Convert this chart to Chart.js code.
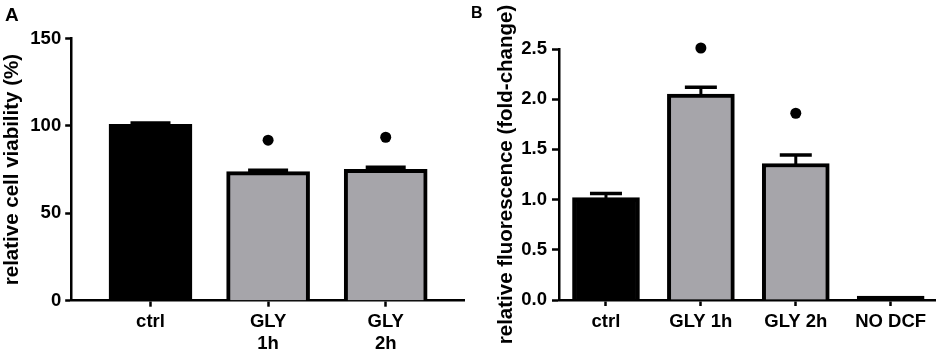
<!DOCTYPE html>
<html>
<head>
<meta charset="utf-8">
<script src="https://cdn.jsdelivr.net/npm/chart.js@4.4.1/dist/chart.umd.min.js"></script>
<style>
  html, body { margin: 0; padding: 0; background: #fff; }
  body { width: 941px; height: 355px; position: relative; overflow: hidden; font-family: "Liberation Sans", Arial, sans-serif; }
  .wrap { position: absolute; top: 0; height: 355px; }
  #wa { left: 0; width: 470px; }
  #wb { left: 470px; width: 471px; }
  .lab { position: absolute; font-weight: bold; line-height: 1; color: #000; }
  #la { left: 5px; top: 5px; font-size: 19px; }
  #lb { left: 471px; top: 5px; font-size: 16px; }
</style>
</head>
<body>
<div class="wrap" id="wa"><canvas id="ca"></canvas></div>
<div class="wrap" id="wb"><canvas id="cb"></canvas></div>
<div class="lab" id="la">A</div>
<div class="lab" id="lb">B</div>
<script>
// ---- Panel A data ----
const categoriesA = [['ctrl'], ['GLY', '1h'], ['GLY', '2h']];
const viabilityA = [100.9, 73.8, 75.2];
const semA = [0.8, 0.8, 1.2];
const significanceA = [null, 91.8, 93.5];
const yTicksA = [0, 50, 100, 150];

// ---- Panel B data ----
const categoriesB = ['ctrl', 'GLY 1h', 'GLY 2h', 'NO DCF'];
const fluorescenceB = [1.02, 2.05, 1.36, 0.04];
const semB = [0.04, 0.07, 0.085, 0];
const significanceB = [null, 2.51, 1.86, null];
const yTicksB = [0, 0.5, 1.0, 1.5, 2.0, 2.5];

const BLACK = '#000000';
const GREY = '#a6a5aa';
const FONT = '"Liberation Sans", Arial, sans-serif';

Chart.defaults.font.family = FONT;
Chart.defaults.font.weight = 'bold';
Chart.defaults.color = BLACK;
Chart.defaults.animation = false;

const errorBarPlugin = {
  id: 'errorBars',
  afterDatasetDraw(chart, args, opts) {
    if (args.index !== 0) return;
    const { ctx } = chart;
    const yScale = chart.scales.y;
    const meta = args.meta;
    const vals = opts.values, errs = opts.errors;
    ctx.save();
    ctx.strokeStyle = BLACK;
    ctx.lineCap = 'butt';
    meta.data.forEach((el, i) => {
      const e = errs[i];
      if (!e) return;
      const x = el.x;
      const yTop = yScale.getPixelForValue(vals[i] + e);
      const yBar = yScale.getPixelForValue(vals[i]);
      ctx.lineWidth = 3;
      ctx.beginPath();
      ctx.moveTo(x, yBar + 2);
      ctx.lineTo(x, yTop);
      ctx.stroke();
      ctx.lineWidth = 3.5;
      ctx.beginPath();
      ctx.moveTo(x - opts.cap / 2, yTop);
      ctx.lineTo(x + opts.cap / 2, yTop);
      ctx.stroke();
    });
    ctx.restore();
  }
};

function makeChart(canvasId, cfg) {
  const cats = cfg.cats;
  return new Chart(document.getElementById(canvasId), {
    type: 'bar',
    data: {
      datasets: [
        {
          type: 'bar',
          order: 2,
          data: cfg.vals.map((v, i) => ({ x: i, y: v })),
          backgroundColor: (c) => cfg.blackBars.includes(c.dataIndex) ? BLACK : GREY,
          borderColor: BLACK,
          borderWidth: 4,
          borderSkipped: 'bottom',
          barThickness: cfg.barW
        },
        {
          type: 'line',
          order: 1,
          showLine: false,
          clip: false,
          data: cfg.sig.map((v, i) => ({ x: i, y: v })),
          pointRadius: cfg.dotR,
          pointBackgroundColor: BLACK,
          pointBorderColor: BLACK,
          pointBorderWidth: 0
        }
      ]
    },
    options: {
      responsive: true,
      maintainAspectRatio: false,
      layout: { padding: { left: 0, right: cfg.padR, top: cfg.padT, bottom: 0 } },
      plugins: {
        legend: { display: false },
        tooltip: { enabled: false },
        errorBars: { values: cfg.vals, errors: cfg.errs, cap: cfg.cap }
      },
      scales: {
        x: {
          type: 'linear',
          offset: false,
          min: cfg.xMin,
          max: cfg.xMax,
          afterBuildTicks: (s) => { s.ticks = cats.map((c, i) => ({ value: i })); },
          afterFit: (s) => { s.height = cfg.xH; },
          ticks: {
            autoSkip: false,
            maxRotation: 0,
            padding: 5,
            font: { size: 18.5, weight: 'bold', lineHeight: 1.15 },
            callback: (v) => cats[v]
          },
          grid: { display: true, offset: false, drawOnChartArea: false, drawTicks: true, tickLength: 6, tickWidth: 2.5, tickColor: BLACK, color: BLACK },
          border: { display: true, width: 2.5, color: BLACK }
        },
        y: {
          type: 'linear',
          min: cfg.yTicks[0],
          max: cfg.yTicks[cfg.yTicks.length - 1],
          afterBuildTicks: (s) => { s.ticks = cfg.yTicks.map(v => ({ value: v })); },
          afterFit: (s) => { s.width = cfg.yW; },
          ticks: {
            padding: cfg.tickPad,
            font: { size: 18.5, weight: 'bold' },
            callback: cfg.yFmt
          },
          grid: { display: true, drawOnChartArea: false, drawTicks: true, tickLength: cfg.tickLen, tickWidth: 2.5, tickColor: BLACK, color: BLACK },
          border: { display: true, width: 2.5, color: BLACK },
          title: {
            display: true,
            text: cfg.title,
            font: { size: 20.5, weight: 'bold', lineHeight: 1.2 },
            padding: { top: cfg.titlePad, bottom: 0 }
          }
        }
      }
    },
    plugins: [errorBarPlugin]
  });
}

makeChart('ca', {
  cats: categoriesA, vals: viabilityA, errs: semA, sig: significanceA, yTicks: yTicksA,
  yFmt: (v) => String(v), blackBars: [0],
  title: 'relative cell viability (%)',
  xMin: -0.67, xMax: 2.67, barW: 83, cap: 40, dotR: 5.5,
  padR: 4, padT: 38.5, xH: 54.3, yW: 71.7, tickLen: 6.5, tickPad: 4, titlePad: 0
});

makeChart('cb', {
  cats: categoriesB, vals: fluorescenceB, errs: semB, sig: significanceB, yTicks: yTicksB,
  yFmt: (v) => Number(v).toFixed(1), blackBars: [0, 3],
  title: 'relative fluorescence (fold-change)',
  xMin: -0.495, xMax: 3.467, barW: 67, cap: 32, dotR: 5.5,
  padR: 6, padT: 49, xH: 55, yW: 89, tickLen: 7, tickPad: 5, titlePad: 24
});
</script>
</body>
</html>
